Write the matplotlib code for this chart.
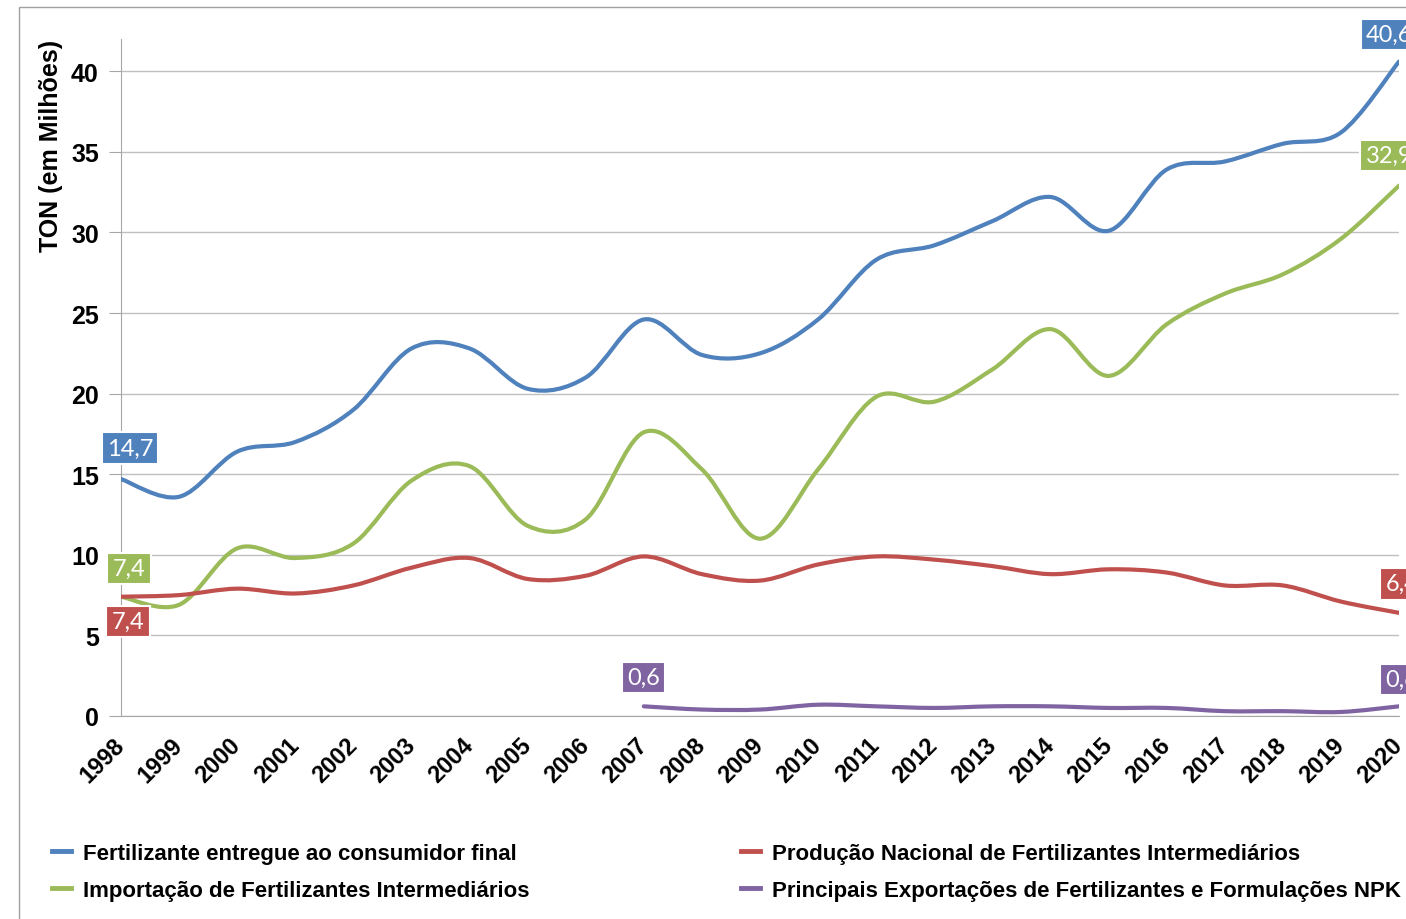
import numpy as np
import matplotlib.pyplot as plt
from matplotlib.path import Path
from matplotlib.patches import PathPatch, Rectangle
from matplotlib.lines import Line2D

years = list(range(1998, 2021))
entregue = [14.7, 13.6, 16.4, 17.0, 19.0, 22.8, 22.8, 20.3, 21.0, 24.6, 22.4, 22.5,
            24.6, 28.3, 29.2, 30.7, 32.2, 30.1, 33.9, 34.4, 35.5, 36.2, 40.6]
importacao = [7.4, 6.9, 10.4, 9.8, 10.7, 14.6, 15.5, 11.8, 12.2, 17.6, 15.3, 11.0,
              15.3, 19.8, 19.5, 21.5, 24.0, 21.1, 24.3, 26.2, 27.4, 29.6, 32.9]
producao = [7.4, 7.5, 7.9, 7.6, 8.1, 9.2, 9.8, 8.5, 8.7, 9.9, 8.8, 8.4,
            9.4, 9.9, 9.7, 9.3, 8.8, 9.1, 8.9, 8.1, 8.1, 7.1, 6.4]
exp_years = list(range(2007, 2021))
exportacoes = [0.6, 0.4, 0.4, 0.7, 0.6, 0.5, 0.6, 0.6, 0.5, 0.5, 0.3, 0.3, 0.25, 0.6]

nomes = ['Fertilizante entregue ao consumidor final',
         'Importação de Fertilizantes Intermediários',
         'Produção Nacional de Fertilizantes Intermediários',
         'Principais Exportações de Fertilizantes e Formulações NPK']
cores = ['#4F81BD', '#9BBB59', '#C0504D', '#8064A2']


def smooth_path(x, y):
    # excel style smoothed line: bezier segments with catmull-rom control points
    x = np.asarray(x, float)
    y = np.asarray(y, float)
    px = np.concatenate([[x[0]], x, [x[-1]]])
    py = np.concatenate([[y[0]], y, [y[-1]]])
    verts = [(x[0], y[0])]
    codes = [Path.MOVETO]
    for i in range(len(x) - 1):
        p0 = np.array([px[i], py[i]])
        p1 = np.array([px[i + 1], py[i + 1]])
        p2 = np.array([px[i + 2], py[i + 2]])
        p3 = np.array([px[i + 3], py[i + 3]])
        c1 = p1 + (p2 - p0) / 6
        c2 = p2 - (p3 - p1) / 6
        verts += [tuple(c1), tuple(c2), tuple(p2)]
        codes += [Path.CURVE4] * 3
    return Path(verts, codes)


W, H = 1406, 920
fig = plt.figure(figsize=(W / 100, H / 100), dpi=100)
ax = fig.add_axes([121 / W, 1 - 717 / H, (1399 - 121) / W, (717 - 40) / H])

series = [(years, entregue), (years, importacao), (years, producao), (exp_years, exportacoes)]
for (xs, ys), c in zip(series, cores):
    ax.add_patch(PathPatch(smooth_path(xs, ys), fill=False, edgecolor=c, lw=3,
                           capstyle='round', joinstyle='round', zorder=3))

ax.set_xlim(1998, 2020)
ax.set_ylim(0, 42)

ax.set_yticks(range(0, 41, 5))
ax.set_yticklabels([str(v) for v in range(0, 41, 5)], fontsize=18, fontweight='bold',
                   family='Liberation Sans')
ax.set_xticks(years)
ax.set_xticklabels([str(a) for a in years], rotation=45, ha='right', va='center',
                   rotation_mode='anchor', fontsize=17, fontweight='bold', family='Liberation Sans')
ax.set_xticks(range(1998, 2021, 5), minor=True)
ax.tick_params(axis='x', which='major', length=0, pad=18)
ax.tick_params(axis='x', which='minor', length=8, color='#a6a6a6', direction='out')
ax.tick_params(axis='y', length=9, color='#a6a6a6', direction='out', pad=7)

ax.grid(axis='y', color='#c0c0c0', lw=1)
ax.set_axisbelow(True)
for s in ['top', 'right']:
    ax.spines[s].set_visible(False)
ax.spines['left'].set_color('#a6a6a6')
ax.spines['bottom'].set_color('#a6a6a6')

ax.set_ylabel('TON (em Milhões)', loc='top', fontsize=18, fontweight='bold',
              family='Liberation Sans', labelpad=6)

# data labels at the first and last point of each series
def rotulo(x, y, c, dx, dy):
    ax.annotate(f'{y:.1f}'.replace('.', ','), (x, y), xytext=(dx, dy), textcoords='offset pixels',
                ha='center', va='center', fontsize=17, color='white', family='Lato',
                bbox=dict(boxstyle='square,pad=0.22', fc=c, ec='white', lw=1.5),
                annotation_clip=False, zorder=5)

rotulo(years[0], entregue[0], cores[0], 9, 31)
rotulo(years[-1], entregue[-1], cores[0], -10, 27)
rotulo(years[0], importacao[0], cores[1], 8, 28)
rotulo(years[-1], importacao[-1], cores[1], -10, 30)
rotulo(years[0], producao[0], cores[2], 7, -25)
rotulo(years[-1], producao[-1], cores[2], 3, 29)
rotulo(exp_years[0], exportacoes[0], cores[3], 0, 29)
rotulo(exp_years[-1], exportacoes[-1], cores[3], 3, 27)

handles = [Line2D([], [], color=c, lw=3.5) for c in cores]
fig.legend(handles, nomes, ncol=2, loc='upper left', bbox_to_anchor=(32 / W, 1 - 824 / H),
           frameon=False, handlelength=0.85, handletextpad=0.55, columnspacing=9.5,
           labelspacing=0.7,
           prop={'family': ['Liberation Sans Narrow', 'Liberation Sans'], 'weight': 'bold', 'size': 16})

# outer chart border
fig.add_artist(Rectangle((19 / W, -0.5), 2, 1.5 - 8 / H, transform=fig.transFigure,
                         fill=False, ec='#a0a0a0', lw=1))

fig.savefig('out.png', dpi=100)
